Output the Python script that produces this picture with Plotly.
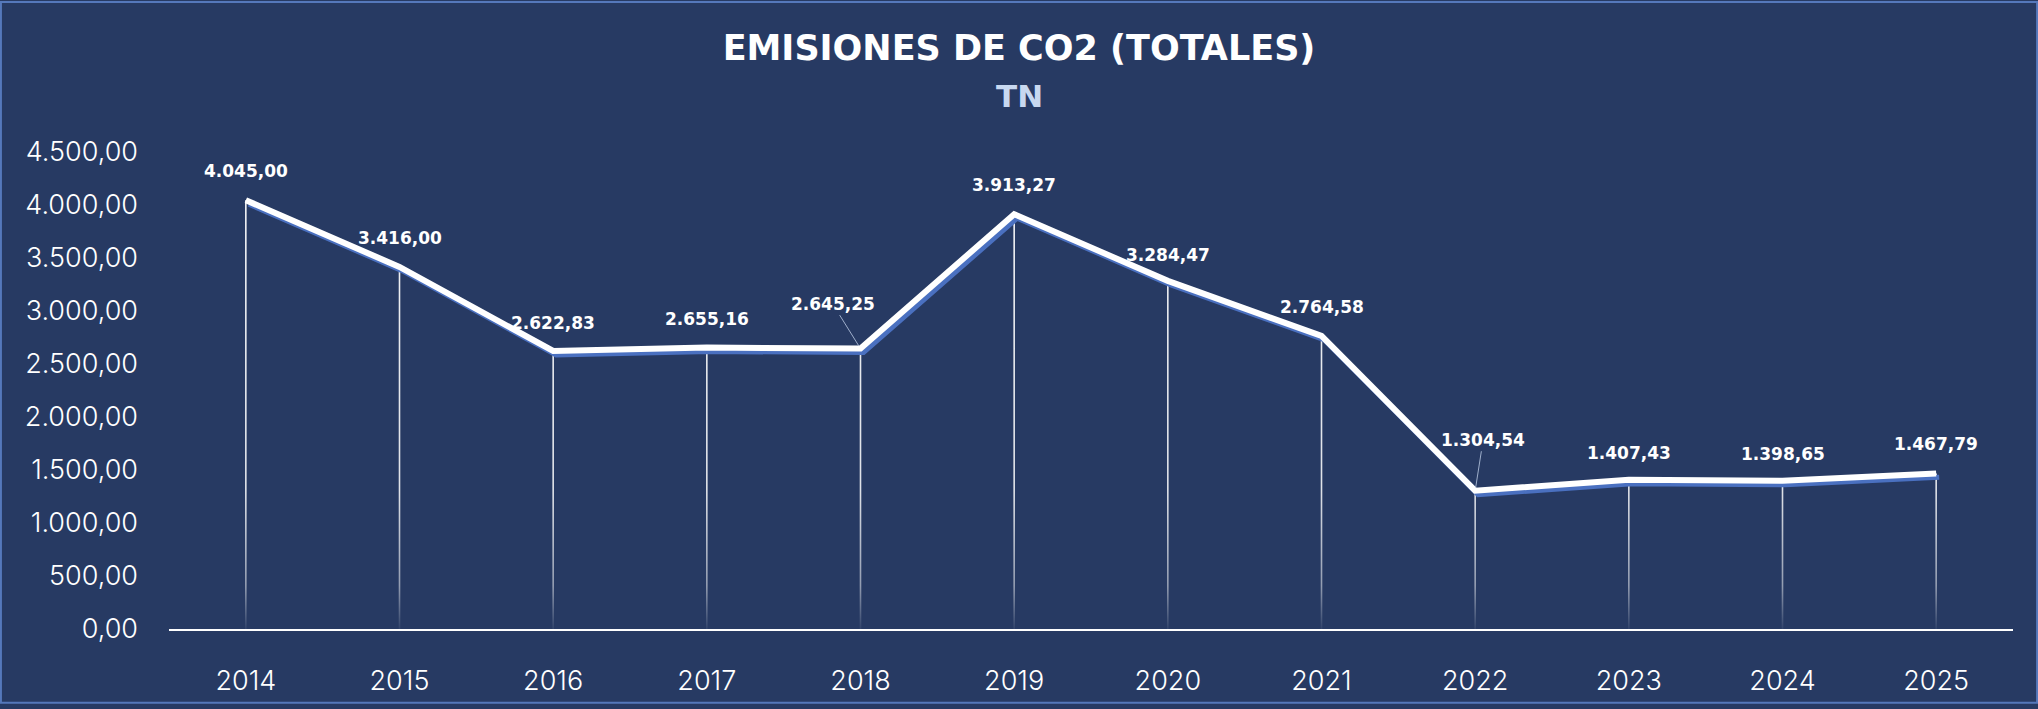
import plotly.graph_objects as go

# ---- data ----
years = ["2014", "2015", "2016", "2017", "2018", "2019", "2020", "2021", "2022", "2023", "2024", "2025"]
emissions = [4045.00, 3416.00, 2622.83, 2655.16, 2645.25, 3913.27, 3284.47, 2764.58, 1304.54, 1407.43, 1398.65, 1467.79]
y_ticks = [0, 500, 1000, 1500, 2000, 2500, 3000, 3500, 4000, 4500]
title_text = "EMISIONES DE CO2 (TOTALES)"
subtitle_text = "TN"

# label offsets (px) relative to each point
label_dx = [0, 0, 0, 0, -28, 0, 0, 0, 8, 0, 0, 0]
label_dy = [-29, -29, -28, -29, -45, -29, -26, -29, -51, -27, -27, -29]
leader = [False, False, False, False, True, False, False, False, True, False, False, False]


def es_fmt(v):
    s = f"{v:,.2f}"
    return s.replace(",", "X").replace(".", ",").replace("X", ".")


W, H = 2038, 709
ML, MR, MT, MB = 169, 25, 152, 75
plot_w = W - ML - MR
plot_h = H - MT - MB
n = len(years)
xs = list(range(n))
x_range = [-0.5, n - 0.5]
y_range = [0, 4500]

BG = "#273a63"
BOLD_FONT = "DejaVu Sans, Open Sans, sans-serif"
TICK_FONT = "Inter, Open Sans, sans-serif"

# pixel -> data conversions for the shadow offset
px_per_x = plot_w / (x_range[1] - x_range[0])
px_per_y = plot_h / (y_range[1] - y_range[0])
sh_dx, sh_dy = 3, 4

fig = go.Figure()

# vertical drop lines with fading gradient
half = 0.8 / px_per_x
dx_poly, dy_poly = [], []
for x, v in zip(xs, emissions):
    dx_poly += [x - half, x + half, x + half, x - half, x - half, None]
    dy_poly += [0, 0, v, v, 0, None]
fig.add_trace(go.Scatter(
    x=dx_poly, y=dy_poly, mode="lines", fill="toself", line=dict(width=0, color="rgba(0,0,0,0)"),
    fillcolor="rgba(255,255,255,0.75)",
    fillgradient=dict(type="vertical", start=0, stop=4500,
                      colorscale=[[0, "rgba(255,255,255,0.0)"], [0.1, "rgba(255,255,255,0.5)"],
                                  [0.3, "rgba(255,255,255,0.85)"], [1, "rgba(255,255,255,0.95)"]]),
    hoverinfo="skip", showlegend=False))

# shadow line (offset axes)
fig.add_trace(go.Scatter(
    x=xs, y=emissions, mode="lines", xaxis="x2", yaxis="y2",
    line=dict(color="#4a70c0", width=5), hoverinfo="skip", showlegend=False))

# main line (overlay axes identical to main ones, drawn above shadow)
fig.add_trace(go.Scatter(
    x=xs, y=emissions, mode="lines", xaxis="x3", yaxis="y3",
    line=dict(color="#ffffff", width=6), showlegend=False))

# data labels
for x, v, dx, dy, ld in zip(xs, emissions, label_dx, label_dy, leader):
    fig.add_annotation(
        x=x, y=v, text=f"<b>{es_fmt(v)}</b>", showarrow=True, ax=dx, ay=dy,
        arrowhead=0, arrowwidth=1,
        arrowcolor="rgba(190,205,230,0.8)" if ld else "rgba(0,0,0,0)",
        standoff=3 if ld else 0,
        font=dict(family=BOLD_FONT, size=17, color="#ffffff"))

# subtitle
fig.add_annotation(
    xref="paper", yref="paper", x=(W / 2 - ML) / plot_w, y=1 + (MT - 95) / plot_h, yanchor="middle",
    text=f"<b>{subtitle_text}</b>", showarrow=False,
    font=dict(family=BOLD_FONT, size=31, color="#c8d8f0"))

# border
fig.add_shape(type="rect", xref="paper", yref="paper",
              x0=-ML / plot_w + 0.0005, x1=1 + MR / plot_w - 0.0005,
              y0=-MB / plot_h + 0.001, y1=1 + MT / plot_h - 0.001,
              line=dict(color="#5578bb", width=2), layer="below")

tickfont = dict(family=TICK_FONT, size=27, color="#ffffff", weight=300)

fig.update_layout(
    width=W, height=H,
    margin=dict(l=ML, r=MR, t=MT, b=MB),
    paper_bgcolor=BG, plot_bgcolor=BG,
    title=dict(text=f"<b>{title_text}</b>", x=0.5, xanchor="center", xref="container",
               y=1 - 48 / H, yanchor="middle", yref="container",
               font=dict(family=BOLD_FONT, size=35, color="#ffffff")),
    xaxis=dict(range=x_range, tickvals=xs, ticktext=years, showgrid=False, zeroline=False,
               showline=True, linecolor="#ffffff", linewidth=2,
               ticks="", ticklabelstandoff=27, tickfont=tickfont),
    yaxis=dict(range=y_range, tickvals=y_ticks, ticktext=[es_fmt(t) for t in y_ticks],
               showgrid=False, zeroline=False, showline=False, ticks="",
               ticklabelstandoff=30, tickfont=tickfont),
    xaxis2=dict(range=[x_range[0] - sh_dx / px_per_x, x_range[1] - sh_dx / px_per_x],
                overlaying="x", visible=False),
    yaxis2=dict(range=[y_range[0] + sh_dy / px_per_y, y_range[1] + sh_dy / px_per_y],
                overlaying="y", visible=False),
    xaxis3=dict(range=x_range, overlaying="x", visible=False),
    yaxis3=dict(range=y_range, overlaying="y", visible=False),
    showlegend=False,
)

fig.write_html("out.html")
